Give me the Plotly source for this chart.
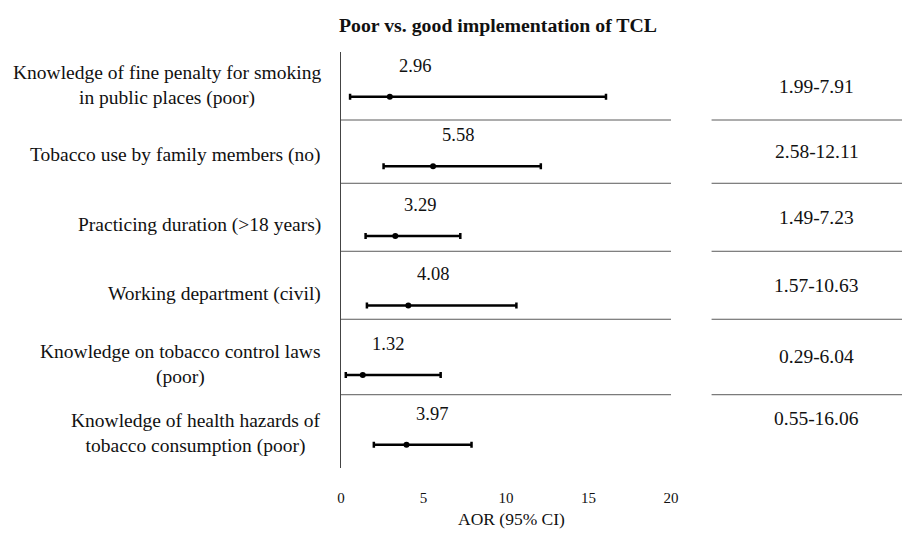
import plotly.graph_objects as go

# ---- data ----
categories = [
    "Knowledge of fine penalty for smoking<br>in public places (poor)",
    "Tobacco use by family members (no)",
    "Practicing duration (>18 years)",
    "Working department (civil)",
    "Knowledge on tobacco control laws<br>(poor)",
    "Knowledge of health hazards of<br>tobacco consumption (poor)",
]
aor = [2.96, 5.58, 3.29, 4.08, 1.32, 3.97]
ci_lower = [0.55, 2.58, 1.49, 1.57, 0.29, 1.99]
ci_upper = [16.06, 12.11, 7.23, 10.63, 6.04, 7.91]
ci_labels = ["1.99-7.91", "2.58-12.11", "1.49-7.23", "1.57-10.63", "0.29-6.04", "0.55-16.06"]
x_ticks = [0, 5, 10, 15, 20]

FONT = "Liberation Serif, Times New Roman, serif"

# ---- layout helpers (row-unit positions of table rules) ----
row_top = -0.642
rule_pos = [0.335, 1.244, 2.221, 3.198, 4.282]
table_bottom = 4.952

fig = go.Figure()
fig.add_trace(go.Scatter(
    x=aor, y=list(range(len(categories))),
    mode="markers",
    marker=dict(color="black", size=6, symbol="circle"),
    error_x=dict(type="data", symmetric=False,
                 array=[u - a for u, a in zip(ci_upper, aor)],
                 arrayminus=[a - l for a, l in zip(aor, ci_lower)],
                 color="black", thickness=2.5, width=3),
    showlegend=False, hoverinfo="skip",
))

ann = []
# value labels
for i, v in enumerate(aor):
    ann.append(dict(x=v, y=i, xref="x", yref="y", text=f"{v:.2f}", showarrow=False,
                    xshift=25, yshift=31, font=dict(family=FONT, size=18.5, color="#111")))
# category labels
for i, c in enumerate(categories):
    ann.append(dict(x=-0.055, y=i, xref="paper", yref="y", text=c, showarrow=False,
                    xanchor="right", align="center", yshift=11,
                    font=dict(family=FONT, size=19.5, color="#111")))
# CI column
bounds = [row_top] + rule_pos + [table_bottom]
for i, t in enumerate(ci_labels):
    yc = (bounds[i] + bounds[i + 1]) / 2
    ann.append(dict(x=1.441, y=yc, xref="paper", yref="y", text=t, showarrow=False,
                    xanchor="center", font=dict(family=FONT, size=19.5, color="#111")))
# x-axis title
ann.append(dict(x=0.518, y=0, xref="paper", yref="paper", text="AOR (95% CI)",
                showarrow=False, xanchor="center", yanchor="middle", yshift=-51,
                font=dict(family=FONT, size=17.5, color="#111")))

shapes = []
for r in rule_pos:
    shapes.append(dict(type="line", xref="x", yref="y", x0=0, x1=20, y0=r, y1=r,
                       line=dict(color="#5a5a5a", width=1)))
    shapes.append(dict(type="line", xref="paper", yref="y", x0=1.123, x1=1.75, y0=r, y1=r,
                       line=dict(color="#5a5a5a", width=1)))

# page body adds an 8px offset, so the figure is sized to fit the 910x533 window
fig.update_layout(
    width=902, height=525,
    margin=dict(l=333, r=239, t=44, b=65),
    paper_bgcolor="white", plot_bgcolor="white",
    title=dict(text="<b>Poor vs. good implementation of TCL</b>", x=490 / 902, xanchor="center",
               y=1 - 17 / 525, yanchor="middle", yref="container",
               font=dict(family=FONT, size=19.8, color="#111")),
    xaxis=dict(range=[0, 20], tickvals=x_ticks, ticktext=[str(t) for t in x_ticks],
               showgrid=False, zeroline=False, showline=False, ticks="",
               automargin=False, ticklabelstandoff=19,
               tickfont=dict(family=FONT, size=15, color="#111")),
    yaxis=dict(range=[5.335, row_top], showgrid=False, zeroline=False,
               showline=True, linecolor="#444", linewidth=1, automargin=False,
               showticklabels=False, ticks=""),
    annotations=ann, shapes=shapes,
)

fig.write_html("out.html")
